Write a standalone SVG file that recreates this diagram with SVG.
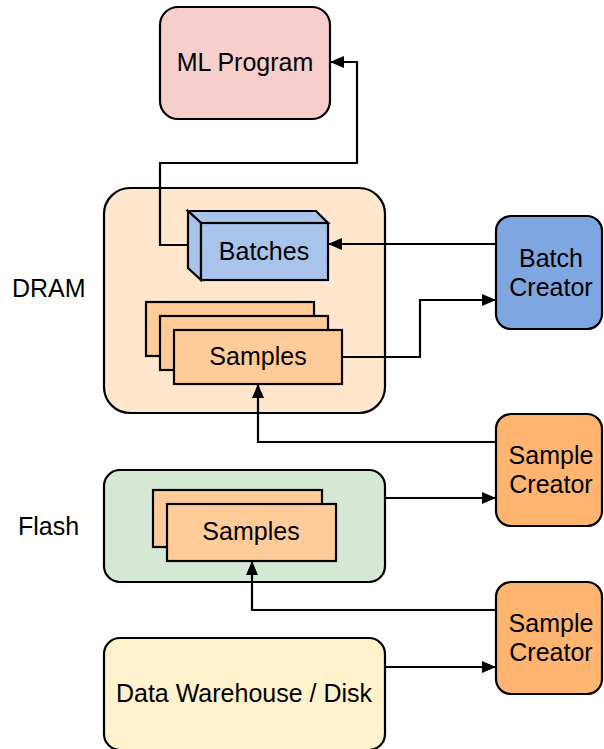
<svg xmlns="http://www.w3.org/2000/svg" width="604" height="749" viewBox="0 0 604 749">
  <defs>
    <marker id="arrow" viewBox="0 0 14 12" refX="13" refY="6" markerWidth="14" markerHeight="12" markerUnits="userSpaceOnUse" orient="auto">
      <path d="M0,0 L14,6 L0,12 Z" fill="#000"/>
    </marker>
    <style>
      .box { stroke: #000; stroke-width: 2.2; }
      .lbl { font-family: "Liberation Sans", Arial, sans-serif; font-size: 25px; fill: #000; text-anchor: middle; }
      .side { font-family: "Liberation Sans", Arial, sans-serif; font-size: 25px; fill: #000; text-anchor: start; }
      .edge { fill: none; stroke: #000; stroke-width: 2.2; }
      .mem-dram { fill: #ffe6cc; }
      .mem-flash { fill: #d5e8d4; }
      .mem-disk { fill: #fff2cc; }
      .sample { fill: #ffcc99; }
      .creator { fill: #ffb570; }
    </style>
  </defs>

  <rect width="604" height="749" fill="#fff"/>

  <!-- side labels -->
  <text class="side" x="12" y="297">DRAM</text>
  <text class="side" x="18" y="535">Flash</text>

  <!-- storage tiers -->
  <g id="dram">
    <rect class="box mem-dram" x="104" y="188" width="281" height="225" rx="26"/>
  </g>
  <g id="flash">
    <rect class="box mem-flash" x="104" y="470" width="281" height="112" rx="16"/>
  </g>
  <g id="disk">
    <rect class="box mem-disk" x="104" y="638" width="281" height="112" rx="16"/>
    <text class="lbl" x="244" y="702">Data Warehouse / Disk</text>
  </g>

  <!-- ML program -->
  <g id="ml-program">
    <rect class="box" x="160" y="7" width="170" height="112" rx="18" fill="#f8cecc"/>
    <text class="lbl" x="245" y="71">ML Program</text>
  </g>

  <!-- batches (3D block) -->
  <g id="batches">
    <path class="box" d="M188,211 L316,211 L328,223 L201,223 Z" fill="#a9c4eb"/>
    <path class="box" d="M188,211 L201,223 L201,280 L188,268 Z" fill="#a9c4eb"/>
    <rect class="box" x="201" y="223" width="127" height="57" fill="#a9c4eb"/>
    <text class="lbl" x="264" y="260">Batches</text>
  </g>

  <!-- samples held in DRAM -->
  <g id="dram-samples">
    <rect class="box sample" x="146" y="302" width="168" height="54"/>
    <rect class="box sample" x="160" y="316" width="168" height="54"/>
    <rect class="box sample" x="174" y="330" width="168" height="54"/>
    <text class="lbl" x="258" y="365">Samples</text>
  </g>

  <!-- samples held in flash -->
  <g id="flash-samples">
    <rect class="box sample" x="153" y="490" width="169" height="57"/>
    <rect class="box sample" x="167" y="504" width="169" height="57"/>
    <text class="lbl" x="251" y="540">Samples</text>
  </g>

  <!-- workers -->
  <g id="batch-creator">
    <rect class="box" x="496" y="216" width="106" height="113" rx="15" fill="#7ea6e0"/>
    <text class="lbl" x="551" y="267">Batch</text>
    <text class="lbl" x="551" y="296">Creator</text>
  </g>
  <g id="sample-creator-dram">
    <rect class="box creator" x="496" y="414" width="106" height="112" rx="15"/>
    <text class="lbl" x="551" y="464">Sample</text>
    <text class="lbl" x="551" y="493">Creator</text>
  </g>
  <g id="sample-creator-flash">
    <rect class="box creator" x="496" y="582" width="106" height="112" rx="15"/>
    <text class="lbl" x="551" y="632">Sample</text>
    <text class="lbl" x="551" y="661">Creator</text>
  </g>

  <!-- data flow -->
  <g id="connectors">
    <path class="edge" d="M188,245 L160,245 L160,163 L357,163 L357,62 L331,62" marker-end="url(#arrow)"/>
    <path class="edge" d="M496,244 L329,244" marker-end="url(#arrow)"/>
    <path class="edge" d="M342,357 L420,357 L420,300 L495,300" marker-end="url(#arrow)"/>
    <path class="edge" d="M496,442 L258,442 L258,385" marker-end="url(#arrow)"/>
    <path class="edge" d="M385,498 L495,498" marker-end="url(#arrow)"/>
    <path class="edge" d="M496,610 L252,610 L252,562" marker-end="url(#arrow)"/>
    <path class="edge" d="M385,667 L495,667" marker-end="url(#arrow)"/>
  </g>
</svg>
